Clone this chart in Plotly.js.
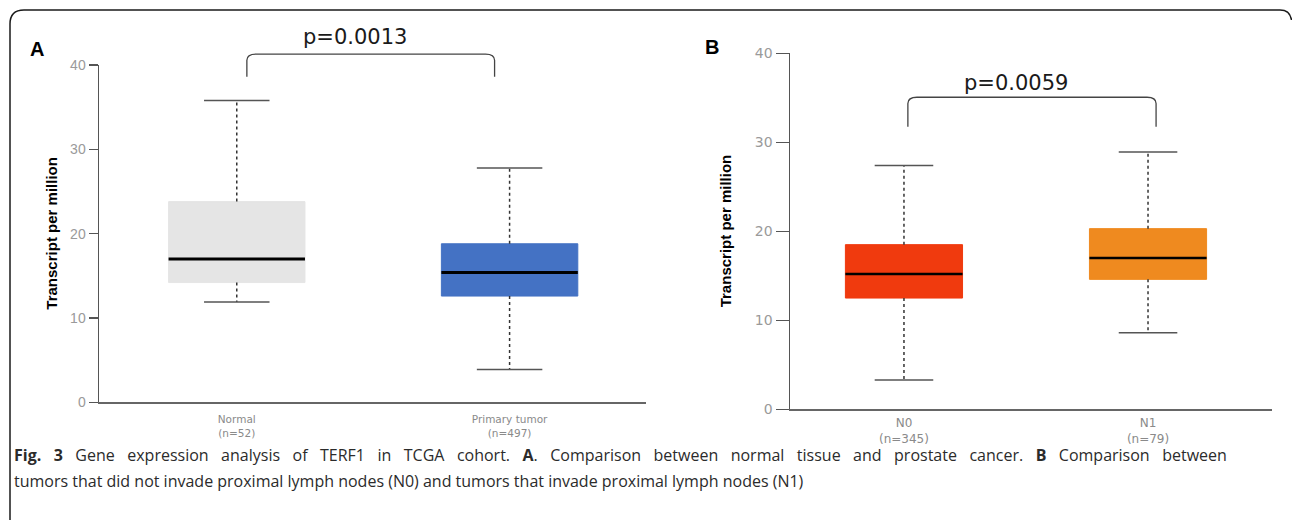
<!DOCTYPE html>
<html><head><meta charset="utf-8">
<script src="https://cdn.plot.ly/plotly-3.0.1.min.js"></script>
<style>html,body{margin:0;padding:0;background:#fff}#chart{width:1292px;height:520px}</style>
</head><body><div id="chart"></div>
<script>
// ---- data (Panel A: Normal vs Primary tumor) ----
const catsA = ['Normal<br>(n=52)', 'Primary tumor<br>(n=497)'];
const lowerA = [11.9, 3.9];
const q1A = [14.2, 12.6];
const medianA = [17.0, 15.4];
const q3A = [23.8, 18.8];
const upperA = [35.8, 27.8];
const colorsA = ['#e5e5e5', '#4472c4'];
const pA = 'p=0.0013';

// ---- data (Panel B: N0 vs N1) ----
const catsB = ['N0<br>(n=345)', 'N1<br>(n=79)'];
const lowerB = [3.3, 8.6];
const q1B = [12.5, 14.6];
const medianB = [15.2, 17.0];
const q3B = [18.5, 20.3];
const upperB = [27.4, 28.9];
const colorsB = ['#f03a0e', '#ef8a1f'];
const pB = 'p=0.0059';

const yTicks = [0, 10, 20, 30, 40];
const yTitle = 'Transcript per million';
const captionLine1 = '<b>Fig. 3</b> Gene expression analysis of TERF1 in TCGA cohort. <b>A</b>. Comparison between normal tissue and prostate cancer. <b>B</b> Comparison between';
const captionLine2 = 'tumors that did not invade proximal lymph nodes (N0) and tumors that invade proximal lymph nodes (N1)';

const W = 1292, H = 520;
const px = x => x / W;
const py = y => 1 - y / H;

const panels = [
  {xa: 'x', ya: 'y', cats: catsA, lo: lowerA, q1: q1A, med: medianA, q3: q3A, up: upperA, colors: colorsA, p: pA,
   xdomPx: [99, 646], ydomPx: [402.3, 65], xrange: [-0.505, 1.5], yrange: [0, 40], boxW: 0.5, capW: 0.24,
   medW: 3, ticklen: 9, tickStandoff: 7,
   tickFont: {family: 'Liberation Sans, Arial', size: 14, color: '#9a9a9a'},
   catFont: {family: 'DejaVu Sans', size: 10.5, color: '#8a8a8a'},
   bracketX: [0.037, 0.945], bracketY: 41.3, legY: 38.6, pY: 43.3, titleX: 52, letter: 'A', letterX: 37, letterY: 49},
  {xa: 'x2', ya: 'y2', cats: catsB, lo: lowerB, q1: q1B, med: medianB, q3: q3B, up: upperB, colors: colorsB, p: pB,
   xdomPx: [790, 1272], ydomPx: [409.3, 53.3], xrange: [-0.467, 1.508], yrange: [0, 40], boxW: 0.48, capW: 0.24,
   medW: 2.5, ticklen: 13, tickStandoff: 2,
   tickFont: {family: 'DejaVu Sans', size: 14, color: '#9a9a9a'},
   catFont: {family: 'DejaVu Sans', size: 12, color: '#8a8a8a'},
   bracketX: [0.016, 1.033], bracketY: 35.06, legY: 31.75, pY: 36.7, titleX: 725, letter: 'B', letterX: 712, letterY: 47}
];

const traces = [];
const shapes = [];
const annotations = [];
const layout = {
  width: W, height: H, margin: {l: 0, r: 0, t: 0, b: 0},
  paper_bgcolor: '#ffffff', plot_bgcolor: 'rgba(0,0,0,0)', showlegend: false,
  shapes: shapes, annotations: annotations
};

panels.forEach((P, k) => {
  const sfx = k === 0 ? '' : '2';
  const xdom = [px(P.xdomPx[0]), px(P.xdomPx[1])];
  const ydom = [py(P.ydomPx[0]), py(P.ydomPx[1])];
  layout['xaxis' + sfx] = {
    domain: xdom, range: P.xrange, anchor: P.ya, type: 'linear',
    tickvals: P.cats.map((c, i) => i), ticktext: P.cats, ticks: '', ticklabelstandoff: P.tickStandoff,
    showline: true, linecolor: '#666', linewidth: 1.5, showgrid: false, zeroline: false,
    tickfont: P.catFont, fixedrange: true
  };
  layout['yaxis' + sfx] = {
    domain: ydom, range: P.yrange, anchor: P.xa, tickvals: yTicks, ticks: 'outside',
    ticklen: P.ticklen, tickwidth: 1.5, tickcolor: '#555', showline: true, linecolor: '#555', linewidth: 1.5,
    showgrid: false, zeroline: false, tickfont: P.tickFont, fixedrange: true
  };
  const xToPaper = v => xdom[0] + (v - P.xrange[0]) / (P.xrange[1] - P.xrange[0]) * (xdom[1] - xdom[0]);
  const yToPaper = v => ydom[0] + (v - P.yrange[0]) / (P.yrange[1] - P.yrange[0]) * (ydom[1] - ydom[0]);

  P.cats.forEach((c, i) => {
    traces.push({
      type: 'box', x: [i], q1: [P.q1[i]], median: [P.med[i]], q3: [P.q3[i]],
      lowerfence: [P.q1[i]], upperfence: [P.q3[i]], width: P.boxW, whiskerwidth: 0,
      fillcolor: P.colors[i], line: {color: P.colors[i], width: 1},
      xaxis: P.xa, yaxis: P.ya, hoverinfo: 'skip', boxpoints: false
    });
    const dot = {color: '#333', width: 1.5, dash: 'dot'};
    traces.push({type: 'scatter', mode: 'lines', x: [i, i], y: [P.q3[i], P.up[i]], line: dot, xaxis: P.xa, yaxis: P.ya, hoverinfo: 'skip'});
    traces.push({type: 'scatter', mode: 'lines', x: [i, i], y: [P.q1[i], P.lo[i]], line: dot, xaxis: P.xa, yaxis: P.ya, hoverinfo: 'skip'});
    const cap = {color: '#555', width: 1.5};
    traces.push({type: 'scatter', mode: 'lines', x: [i - P.capW / 2, i + P.capW / 2], y: [P.up[i], P.up[i]], line: cap, xaxis: P.xa, yaxis: P.ya, hoverinfo: 'skip'});
    traces.push({type: 'scatter', mode: 'lines', x: [i - P.capW / 2, i + P.capW / 2], y: [P.lo[i], P.lo[i]], line: cap, xaxis: P.xa, yaxis: P.ya, hoverinfo: 'skip'});
    traces.push({type: 'scatter', mode: 'lines', x: [i - P.boxW / 2, i + P.boxW / 2], y: [P.med[i], P.med[i]], line: {color: '#000', width: P.medW}, xaxis: P.xa, yaxis: P.ya, hoverinfo: 'skip'});
  });

  // significance bracket between the two groups
  const xl = xToPaper(P.bracketX[0]), xr = xToPaper(P.bracketX[1]);
  const yb = yToPaper(P.bracketY), yl = yToPaper(P.legY);
  const r = 0.007, ry = 0.012;
  shapes.push({type: 'path', xref: 'paper', yref: 'paper', line: {color: '#444', width: 1.3},
    path: `M ${xl},${yl} L ${xl},${yb - ry} Q ${xl},${yb} ${xl + r},${yb} L ${xr - r},${yb} Q ${xr},${yb} ${xr},${yb - ry} L ${xr},${yl}`});
  annotations.push({xref: 'paper', yref: 'paper', x: (xl + xr) / 2, xshift: -16, y: yToPaper(P.pY), text: P.p,
    showarrow: false, xanchor: 'center', yanchor: 'middle', font: {family: 'DejaVu Sans', size: 21, color: '#1a1a1a'}});
  annotations.push({xref: 'paper', yref: 'paper', x: px(P.titleX), y: (ydom[0] + ydom[1]) / 2, text: '<b>' + yTitle + '</b>',
    textangle: -90, showarrow: false, xanchor: 'center', yanchor: 'middle', font: {family: 'Liberation Sans, Arial', size: 15, color: '#000'}});
  annotations.push({xref: 'paper', yref: 'paper', x: px(P.letterX), y: py(P.letterY), text: '<b>' + P.letter + '</b>',
    showarrow: false, xanchor: 'center', yanchor: 'middle', font: {family: 'Liberation Sans, Arial', size: 20, color: '#000'}});
});

// caption (first line is justified in the reference: widen the word gaps)
const capFont = {family: 'Open Sans', size: 16, color: '#2b2b2b'};
annotations.push({xref: 'paper', yref: 'paper', x: px(12), y: py(455), xanchor: 'left', yanchor: 'middle', showarrow: false, font: capFont,
  text: captionLine1.split(' ').join(' \u00a0\u00a0')});
annotations.push({xref: 'paper', yref: 'paper', x: px(12), y: py(481), xanchor: 'left', yanchor: 'middle', showarrow: false, font: capFont,
  text: captionLine2});

// outer frame
shapes.push({type: 'path', xref: 'paper', yref: 'paper', line: {color: '#1a1a1a', width: 1.5},
  path: `M ${px(10)},${py(521)} L ${px(10)},${py(24)} Q ${px(10)},${py(10)} ${px(24)},${py(10)} L ${px(1280)},${py(10)} Q ${px(1290)},${py(10)} ${px(1291.5)},${py(20)}`});

Plotly.newPlot('chart', traces, layout, {displayModeBar: false, staticPlot: true});
</script></body></html>
